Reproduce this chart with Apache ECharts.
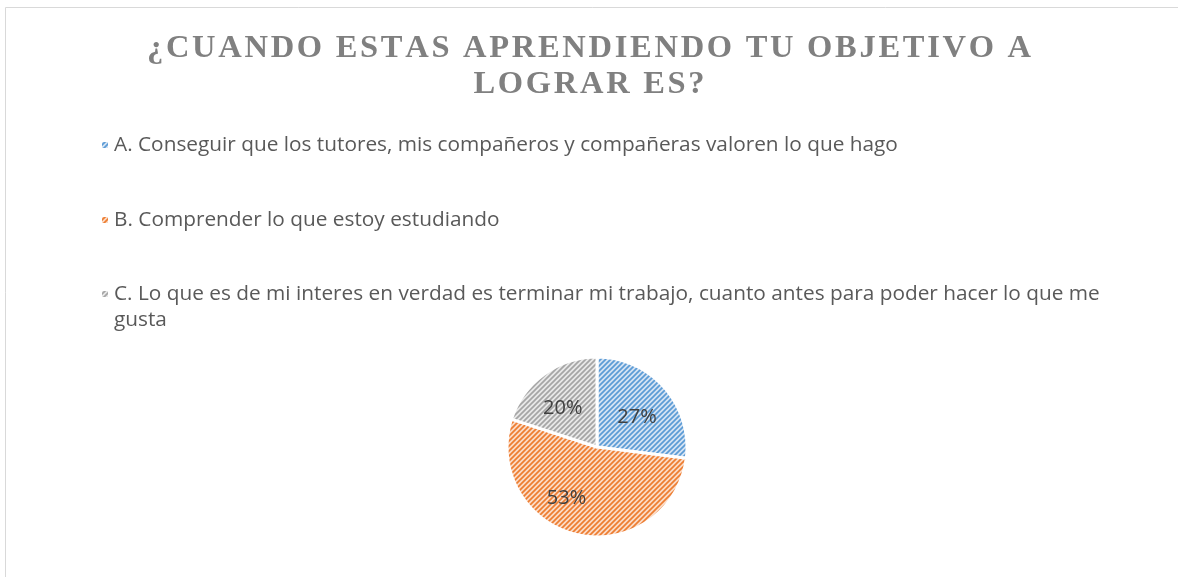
<!DOCTYPE html>
<html lang="es">
<head>
    <meta charset="UTF-8">
    <script src="https://cdn.jsdelivr.net/npm/echarts@6/dist/echarts.min.js"></script>
</head>
<body style="margin:0;background:#fff">
<div style="width: 1178px;height: 577px" id="chart"></div>

<script>
    var tituloLinea1 = '¿CUANDO ESTAS APRENDIENDO TU OBJETIVO A'
    var tituloLinea2 = 'LOGRAR ES?'
    var opciones = [
        'A. Conseguir que los tutores, mis compañeros y compañeras valoren lo que hago',
        'B. Comprender lo que estoy estudiando',
        'C. Lo que es de mi interes en verdad es terminar mi trabajo, cuanto antes para poder hacer lo que me gusta'
    ]
    var porcentajes = [27, 53, 20]
    var colores = ['#5B9BD5', '#ED7D31', '#A5A5A5']
    var fondos = ['#d5e3f3', '#fbdcc7', '#e8e8e8']
    // small nudges so labels sit where excel put them
    var desplazamientos = [[4, 2], [-20, 4], [-6, 0]]

    // diagonal hatch like the excel pattern fill
    function rayado(linea, fondo) {
        var s = 5
        var c = document.createElement('canvas')
        c.width = s
        c.height = s
        var ctx = c.getContext('2d')
        ctx.fillStyle = fondo
        ctx.fillRect(0, 0, s, s)
        ctx.strokeStyle = linea
        ctx.lineWidth = 1.7
        ctx.beginPath()
        ctx.moveTo(-s, s); ctx.lineTo(s, -s)
        ctx.moveTo(0, s); ctx.lineTo(s, 0)
        ctx.moveTo(0, 2 * s); ctx.lineTo(2 * s, 0)
        ctx.stroke()
        return { image: c, repeat: 'repeat' }
    }

    // spaced letters for the title
    function espaciado(t) {
        return t.split('').join('\u200A')
    }

    var datos = []
    opciones.forEach(function (n, i) {
        datos.push({
            name: n,
            value: porcentajes[i],
            itemStyle: { color: rayado(colores[i], fondos[i]) },
            label: { offset: desplazamientos[i] }
        })
    })

    var legendas = []
    var tops = [127, 202, 250]
    opciones.forEach(function (n, i) {
        legendas.push({
            data: [n],
            left: 95,
            top: tops[i],
            icon: 'rect',
            itemWidth: 8,
            itemHeight: 8,
            itemGap: 8,
            selectedMode: false,
            formatter: function (name) {
                // blank first line keeps the marker next to the first text line
                if (name.indexOf(' me gusta') > 0) {
                    return '\n' + name.replace(' me gusta', ' me\ngusta')
                }
                return name
            },
            textStyle: {
                fontFamily: 'Open Sans',
                fontSize: 20.8,
                color: '#595959',
                lineHeight: 26
            }
        })
    })

    var myChart = echarts.init(document.getElementById('chart'))
    var option = {
        animation: false,
        title: {
            text: espaciado(tituloLinea1) + '\n' + espaciado(tituloLinea2),
            left: 'center',
            top: 26,
            textStyle: {
                fontFamily: 'Liberation Serif',
                fontWeight: 'bold',
                fontSize: 32.5,
                color: '#808080',
                lineHeight: 36,
                align: 'center'
            }
        },
        legend: legendas,
        graphic: [{
            type: 'rect',
            shape: { x: 5.5, y: 7.5, width: 1300, height: 700 },
            style: { fill: 'none', stroke: '#d9d9d9', lineWidth: 1 },
            silent: true
        }],
        series: [{
            type: 'pie',
            center: [597, 447],
            radius: 90,
            startAngle: 90,
            clockwise: true,
            itemStyle: { borderColor: '#fff', borderWidth: 3 },
            label: {
                show: true,
                position: 'inside',
                formatter: '{c}%',
                fontFamily: 'Open Sans',
                fontSize: 20,
                color: '#404040'
            },
            labelLine: { show: false },
            emphasis: { disabled: true },
            data: datos
        }]
    }
    option && myChart.setOption(option)
</script>
</body>
</html>
